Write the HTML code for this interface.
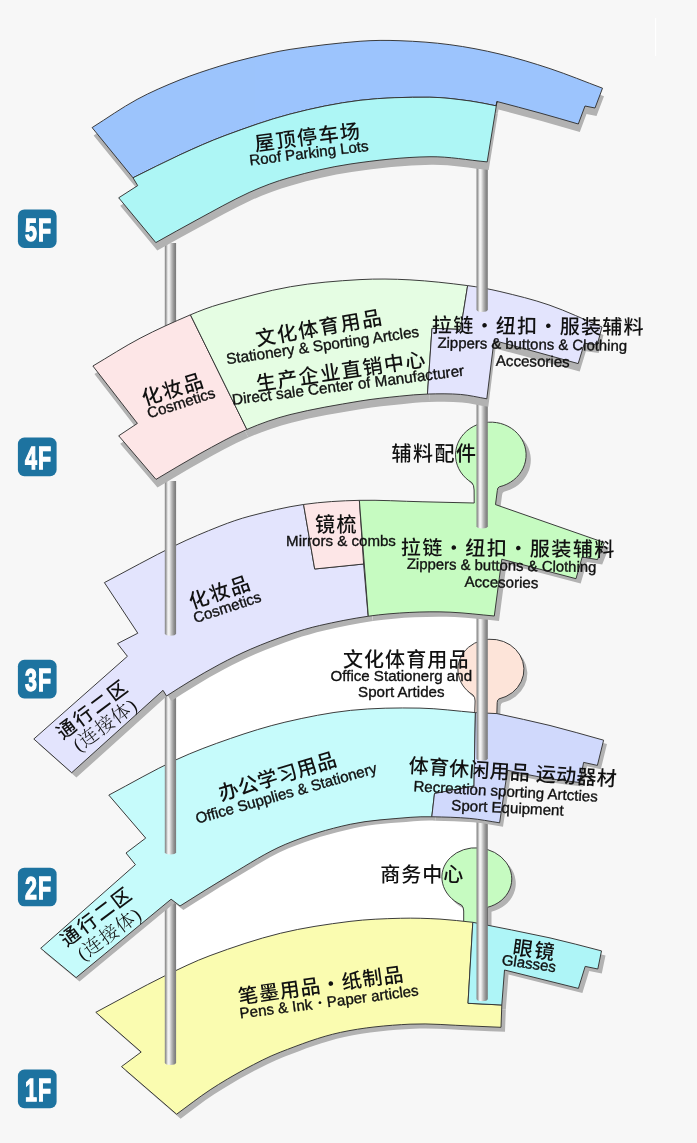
<!DOCTYPE html>
<html lang="zh"><head><meta charset="utf-8"><title>Floor Guide</title>
<style>html,body{margin:0;padding:0;background:#f7f7f7}body{width:697px;height:1143px;overflow:hidden}svg{display:block;will-change:transform;opacity:.999}</style>
</head><body>
<svg width="697" height="1143" viewBox="0 0 697 1143">
<defs>
<linearGradient id="pg" x1="0" y1="0" x2="1" y2="0">
<stop offset="0" stop-color="#868686"/><stop offset="0.1" stop-color="#9c9c9c"/><stop offset="0.27" stop-color="#eee"/><stop offset="0.38" stop-color="#f5f5f5"/><stop offset="0.6" stop-color="#bcbcbc"/><stop offset="0.82" stop-color="#8e8e8e"/><stop offset="1" stop-color="#787878"/>
</linearGradient>
<filter id="sb" x="-5%" y="-5%" width="110%" height="110%"><feGaussianBlur stdDeviation="0.5"/></filter>
</defs>
<rect width="697" height="1143" fill="#f7f7f7"/>
<rect x="655" y="18" width="1.2" height="38" fill="#fff"/>
<path d="M175.60 640.00 L477.50 560.00 L477.50 760.00 L175.60 830.00 Z" fill="#fff"/>
<path d="M175.60 850.00 L477.50 770.00 L477.50 960.00 L175.60 1030.00 Z" fill="#fff"/>
<g transform="translate(4.0 4.5)" fill="#b2b2b2" filter="url(#sb)">
<path d="M463.70 925.00 L463.70 911.00 Q463.70 907.30 461.50 905.00 A35.00 30.30 6.0 1 1 487.50 907.30 L487.50 928.00 Z"/>
<path d="M95.80 1012.30 C107.32 1006.11 118.79 999.83 130.35 993.72 C141.66 987.75 152.89 981.58 164.42 976.07 C179.45 968.88 194.44 961.37 210.05 955.61 C233.09 947.11 256.55 939.10 280.39 933.27 C303.19 927.69 326.66 924.31 349.97 921.39 C366.68 919.31 383.61 918.70 400.44 918.27 C413.61 917.93 426.82 918.35 439.97 919.08 C450.94 919.69 461.86 921.23 472.80 922.30 L468.00 1003.30 L501.80 1005.00 L501.00 1027.30 C490.75 1026.86 480.51 1026.33 470.26 1025.98 C450.19 1025.29 430.04 1023.17 410.04 1024.16 C386.75 1025.31 363.12 1027.50 340.38 1032.41 C319.83 1036.84 299.85 1044.62 280.19 1052.20 C268.03 1056.88 256.41 1063.03 244.92 1069.20 C233.07 1075.57 221.40 1082.42 210.17 1089.82 C198.63 1097.42 187.79 1106.07 176.60 1114.20 L121.50 1066.60 L141.20 1052.00 Z"/>
<path d="M472.80 922.30 C498.53 927.50 524.38 932.21 550.00 937.90 C567.28 941.74 584.33 946.57 601.50 950.90 L597.80 969.00 L585.20 966.40 L578.40 988.40 L504.50 970.00 L501.80 1005.00 L468.00 1003.30 Z"/>
</g>
<g stroke="#333" stroke-width="0.95" stroke-linejoin="miter">
<path d="M463.70 925.00 L463.70 911.00 Q463.70 907.30 461.50 905.00 A35.00 30.30 6.0 1 1 487.50 907.30 L487.50 928.00 Z" fill="#c6fbc1"/>
<path d="M95.80 1012.30 C107.32 1006.11 118.79 999.83 130.35 993.72 C141.66 987.75 152.89 981.58 164.42 976.07 C179.45 968.88 194.44 961.37 210.05 955.61 C233.09 947.11 256.55 939.10 280.39 933.27 C303.19 927.69 326.66 924.31 349.97 921.39 C366.68 919.31 383.61 918.70 400.44 918.27 C413.61 917.93 426.82 918.35 439.97 919.08 C450.94 919.69 461.86 921.23 472.80 922.30 L468.00 1003.30 L501.80 1005.00 L501.00 1027.30 C490.75 1026.86 480.51 1026.33 470.26 1025.98 C450.19 1025.29 430.04 1023.17 410.04 1024.16 C386.75 1025.31 363.12 1027.50 340.38 1032.41 C319.83 1036.84 299.85 1044.62 280.19 1052.20 C268.03 1056.88 256.41 1063.03 244.92 1069.20 C233.07 1075.57 221.40 1082.42 210.17 1089.82 C198.63 1097.42 187.79 1106.07 176.60 1114.20 L121.50 1066.60 L141.20 1052.00 Z" fill="#fafcb0"/>
<path d="M472.80 922.30 C498.53 927.50 524.38 932.21 550.00 937.90 C567.28 941.74 584.33 946.57 601.50 950.90 L597.80 969.00 L585.20 966.40 L578.40 988.40 L504.50 970.00 L501.80 1005.00 L468.00 1003.30 Z" fill="#aef5f7"/>
</g>
<path d="M164.8 901.0 L164.8 1062.8 A5.7 2.6 0 0 0 176.1 1062.8 L176.1 901.0 Z" fill="url(#pg)"/>
<path d="M476.5 820.0 L476.5 999.0 A5.7 2.6 0 0 0 487.8 999.0 L487.8 820.0 Z" fill="url(#pg)"/>
<g transform="translate(3.4 3.9)" fill="#b2b2b2" filter="url(#sb)">
<path d="M474.60 716.00 L475.10 701.00 Q475.20 697.20 472.90 694.90 A33.00 30.30 0 1 1 499.00 698.90 Q497.30 699.60 497.20 702.50 L496.70 718.00 Z"/>
<path d="M108.80 795.10 C131.13 783.37 152.95 770.53 175.78 759.91 C193.53 751.65 212.04 744.84 230.55 738.44 C248.42 732.27 266.54 726.51 284.93 722.20 C306.51 717.16 328.43 712.69 350.44 710.39 C373.45 707.99 396.83 707.71 419.98 708.12 C438.48 708.45 456.93 711.11 475.40 712.60 L474.00 786.00 L434.50 793.50 L431.80 816.78 C424.57 816.65 417.29 816.69 410.09 817.35 C390.11 819.18 369.78 820.03 350.24 824.27 C328.12 829.07 305.95 835.67 285.12 844.46 C266.02 852.51 248.43 864.27 230.45 874.80 C213.39 884.78 196.82 895.60 180.00 906.00 L171.10 899.20 L76.10 977.60 L40.70 948.30 L135.40 864.70 L126.00 853.00 L145.70 838.10 Z"/>
<path d="M475.40 712.60 L496.90 713.60 C514.60 717.57 532.40 721.11 550.00 725.50 C567.97 729.98 585.73 735.30 603.60 740.20 L597.40 765.40 L583.60 762.40 L579.70 782.50 C568.13 781.00 556.49 779.94 545.00 778.00 C532.43 775.88 520.00 772.87 507.50 770.30 L499.60 822.80 L499.60 822.80 C489.68 821.33 479.82 819.29 469.84 818.40 C457.22 817.28 444.48 817.01 431.80 816.78 L434.50 793.50 L474.00 786.00 Z"/>
</g>
<g stroke="#333" stroke-width="0.95" stroke-linejoin="miter">
<path d="M474.60 716.00 L475.10 701.00 Q475.20 697.20 472.90 694.90 A33.00 30.30 0 1 1 499.00 698.90 Q497.30 699.60 497.20 702.50 L496.70 718.00 Z" fill="#fde4d9"/>
<path d="M108.80 795.10 C131.13 783.37 152.95 770.53 175.78 759.91 C193.53 751.65 212.04 744.84 230.55 738.44 C248.42 732.27 266.54 726.51 284.93 722.20 C306.51 717.16 328.43 712.69 350.44 710.39 C373.45 707.99 396.83 707.71 419.98 708.12 C438.48 708.45 456.93 711.11 475.40 712.60 L474.00 786.00 L434.50 793.50 L431.80 816.78 C424.57 816.65 417.29 816.69 410.09 817.35 C390.11 819.18 369.78 820.03 350.24 824.27 C328.12 829.07 305.95 835.67 285.12 844.46 C266.02 852.51 248.43 864.27 230.45 874.80 C213.39 884.78 196.82 895.60 180.00 906.00 L171.10 899.20 L76.10 977.60 L40.70 948.30 L135.40 864.70 L126.00 853.00 L145.70 838.10 Z" fill="#c6fbfb"/>
<path d="M475.40 712.60 L496.90 713.60 C514.60 717.57 532.40 721.11 550.00 725.50 C567.97 729.98 585.73 735.30 603.60 740.20 L597.40 765.40 L583.60 762.40 L579.70 782.50 C568.13 781.00 556.49 779.94 545.00 778.00 C532.43 775.88 520.00 772.87 507.50 770.30 L499.60 822.80 L499.60 822.80 C489.68 821.33 479.82 819.29 469.84 818.40 C457.22 817.28 444.48 817.01 431.80 816.78 L434.50 793.50 L474.00 786.00 Z" fill="#d0d9fc"/>
</g>
<path d="M164.8 691.0 L164.8 852.3 A5.7 2.6 0 0 0 176.1 852.3 L176.1 691.0 Z" fill="url(#pg)"/>
<path d="M476.5 618.0 L476.5 758.6 A5.7 2.6 0 0 0 487.8 758.6 L487.8 618.0 Z" fill="url(#pg)"/>
<g transform="translate(4.7 4.9)" fill="#b2b2b2" filter="url(#sb)">
<path d="M104.40 582.60 C127.95 570.25 151.16 557.23 175.04 545.56 C189.69 538.41 204.80 532.11 219.96 526.14 C229.76 522.28 239.75 518.72 249.93 516.08 C267.61 511.50 285.51 507.08 303.57 504.48 L314.70 569.00 L363.60 564.00 L368.00 614.90 L368.32 616.22 C351.99 618.59 335.73 621.85 319.64 625.51 C309.63 627.79 299.72 630.72 290.01 634.05 C276.80 638.57 263.70 643.57 250.86 649.08 C240.33 653.60 230.05 658.78 219.91 664.14 C209.74 669.51 199.80 675.36 189.92 681.25 C182.00 685.98 174.31 691.08 166.50 696.00 L163.00 690.30 L71.70 772.70 L33.80 739.00 L127.40 656.30 L117.50 643.60 L137.80 633.20 Z"/>
<path d="M303.57 504.48 C321.98 501.83 340.74 500.76 359.36 500.34 L363.60 564.00 L314.70 569.00 Z"/>
<path d="M359.36 500.34 C380.23 499.86 401.16 501.30 422.06 501.78 C439.44 502.19 456.82 502.59 474.20 503.00 L474.10 490.00 Q474.10 485.20 471.80 482.60 A35.30 32.80 0 1 1 499.30 486.80 Q497.50 487.50 497.30 490.50 L495.50 504.60 L604.30 542.60 L597.50 559.60 L582.20 557.00 L576.00 578.70 L501.80 559.20 L494.30 616.00 C479.52 614.72 464.77 612.79 449.97 612.16 C436.64 611.60 423.23 611.76 409.91 612.43 C396.02 613.12 382.08 614.23 368.32 616.22 Z"/>
</g>
<g stroke="#333" stroke-width="0.95" stroke-linejoin="miter">
<path d="M104.40 582.60 C127.95 570.25 151.16 557.23 175.04 545.56 C189.69 538.41 204.80 532.11 219.96 526.14 C229.76 522.28 239.75 518.72 249.93 516.08 C267.61 511.50 285.51 507.08 303.57 504.48 L314.70 569.00 L363.60 564.00 L368.00 614.90 L368.32 616.22 C351.99 618.59 335.73 621.85 319.64 625.51 C309.63 627.79 299.72 630.72 290.01 634.05 C276.80 638.57 263.70 643.57 250.86 649.08 C240.33 653.60 230.05 658.78 219.91 664.14 C209.74 669.51 199.80 675.36 189.92 681.25 C182.00 685.98 174.31 691.08 166.50 696.00 L163.00 690.30 L71.70 772.70 L33.80 739.00 L127.40 656.30 L117.50 643.60 L137.80 633.20 Z" fill="#e3e4fd"/>
<path d="M303.57 504.48 C321.98 501.83 340.74 500.76 359.36 500.34 L363.60 564.00 L314.70 569.00 Z" fill="#fde6e7"/>
<path d="M359.36 500.34 C380.23 499.86 401.16 501.30 422.06 501.78 C439.44 502.19 456.82 502.59 474.20 503.00 L474.10 490.00 Q474.10 485.20 471.80 482.60 A35.30 32.80 0 1 1 499.30 486.80 Q497.50 487.50 497.30 490.50 L495.50 504.60 L604.30 542.60 L597.50 559.60 L582.20 557.00 L576.00 578.70 L501.80 559.20 L494.30 616.00 C479.52 614.72 464.77 612.79 449.97 612.16 C436.64 611.60 423.23 611.76 409.91 612.43 C396.02 613.12 382.08 614.23 368.32 616.22 Z" fill="#c6fbc1"/>
</g>
<path d="M164.8 481.0 L164.8 633.4 A5.7 2.6 0 0 0 176.1 633.4 L176.1 481.0 Z" fill="url(#pg)"/>
<path d="M476.5 400.0 L476.5 526.3 A5.7 2.6 0 0 0 487.8 526.3 L487.8 400.0 Z" fill="url(#pg)"/>
<path d="M164.8 243.0 L164.8 332.8 A5.7 2.6 0 0 0 176.1 332.8 L176.1 243.0 Z" fill="url(#pg)"/>
<g transform="translate(1.5 8.0)" fill="#b2b2b2" filter="url(#sb)">
<path d="M92.90 366.00 C108.63 356.74 123.94 346.69 140.08 338.22 C156.44 329.64 173.42 322.10 190.43 314.84 L246.86 429.45 C230.77 436.42 215.38 445.16 199.98 453.63 C185.10 461.81 170.66 470.81 156.00 479.40 L118.70 435.80 L137.40 423.40 Z"/>
<path d="M190.43 314.84 C200.06 310.73 209.90 306.94 219.98 304.10 C243.24 297.56 266.68 290.89 290.46 286.73 C313.36 282.72 336.77 280.93 360.01 279.60 C376.61 278.65 393.36 278.95 409.97 279.87 C429.23 280.95 448.49 283.12 467.63 285.60 L460.60 329.40 L432.00 328.40 L427.46 394.06 C418.24 394.33 409.03 395.23 399.85 396.18 C386.58 397.55 373.28 398.82 360.13 401.03 C336.63 404.98 312.98 408.85 289.91 414.64 C275.23 418.32 260.75 423.43 246.86 429.45 Z"/>
<path d="M467.63 285.60 C478.48 287.00 489.30 289.00 499.95 291.53 C516.41 295.45 532.98 299.40 548.94 304.95 C567.00 311.22 584.31 319.65 602.00 327.00 L597.20 345.00 L584.40 343.20 L578.20 363.60 C565.47 360.07 552.74 356.50 540.00 353.00 C524.68 348.80 509.33 344.67 494.00 340.50 L486.80 398.80 C478.07 397.35 469.41 395.14 460.61 394.44 C449.63 393.56 438.50 393.75 427.46 394.06 L432.00 328.40 L460.60 329.40 Z"/>
</g>
<g stroke="#333" stroke-width="0.95" stroke-linejoin="miter">
<path d="M92.90 366.00 C108.63 356.74 123.94 346.69 140.08 338.22 C156.44 329.64 173.42 322.10 190.43 314.84 L246.86 429.45 C230.77 436.42 215.38 445.16 199.98 453.63 C185.10 461.81 170.66 470.81 156.00 479.40 L118.70 435.80 L137.40 423.40 Z" fill="#fde6e7"/>
<path d="M190.43 314.84 C200.06 310.73 209.90 306.94 219.98 304.10 C243.24 297.56 266.68 290.89 290.46 286.73 C313.36 282.72 336.77 280.93 360.01 279.60 C376.61 278.65 393.36 278.95 409.97 279.87 C429.23 280.95 448.49 283.12 467.63 285.60 L460.60 329.40 L432.00 328.40 L427.46 394.06 C418.24 394.33 409.03 395.23 399.85 396.18 C386.58 397.55 373.28 398.82 360.13 401.03 C336.63 404.98 312.98 408.85 289.91 414.64 C275.23 418.32 260.75 423.43 246.86 429.45 Z" fill="#e5fde3"/>
<path d="M467.63 285.60 C478.48 287.00 489.30 289.00 499.95 291.53 C516.41 295.45 532.98 299.40 548.94 304.95 C567.00 311.22 584.31 319.65 602.00 327.00 L597.20 345.00 L584.40 343.20 L578.20 363.60 C565.47 360.07 552.74 356.50 540.00 353.00 C524.68 348.80 509.33 344.67 494.00 340.50 L486.80 398.80 C478.07 397.35 469.41 395.14 460.61 394.44 C449.63 393.56 438.50 393.75 427.46 394.06 L432.00 328.40 L460.60 329.40 Z" fill="#e3e4fd"/>
</g>
<path d="M476.5 163.0 L476.5 309.8 A5.7 2.6 0 0 0 487.8 309.8 L487.8 163.0 Z" fill="url(#pg)"/>
<g transform="translate(1.5 8.0)" fill="#b2b2b2" filter="url(#sb)">
<path d="M92.10 127.60 C107.09 118.20 121.56 107.83 137.07 99.40 C150.86 91.91 165.43 85.70 180.01 79.84 C193.05 74.59 206.50 70.29 219.91 66.07 C229.82 62.96 239.87 60.26 249.97 57.86 C263.24 54.70 276.56 51.43 290.05 49.39 C313.26 45.89 336.67 43.10 360.07 41.26 C373.33 40.21 386.73 40.21 400.03 40.71 C416.68 41.35 433.39 42.47 449.90 44.68 C466.71 46.93 483.47 50.13 499.97 54.08 C516.87 58.12 533.59 63.15 550.09 68.64 C567.77 74.52 585.03 81.68 602.50 88.20 L595.00 108.00 L585.00 106.00 L578.30 124.00 C565.53 120.33 552.80 116.54 540.00 113.00 C525.70 109.04 511.33 105.33 497.00 101.50 L496.00 105.80 C487.36 104.19 478.79 102.09 470.09 100.96 C456.76 99.23 443.33 97.30 429.91 97.23 C406.65 97.09 383.13 97.53 360.06 100.31 C336.49 103.16 312.96 108.11 289.96 114.12 C267.95 119.86 246.38 127.66 225.01 135.57 C209.72 141.22 194.82 147.99 180.00 154.79 C164.15 162.07 148.67 170.13 133.00 177.80 Z"/>
<path d="M118.70 197.80 L137.70 185.60 L133.00 177.80 C148.67 170.13 164.15 162.07 180.00 154.79 C194.82 147.99 209.72 141.22 225.01 135.57 C246.38 127.66 267.95 119.86 289.96 114.12 C312.96 108.11 336.49 103.16 360.06 100.31 C383.13 97.53 406.65 97.09 429.91 97.23 C443.33 97.30 456.76 99.23 470.09 100.96 C478.79 102.09 487.36 104.19 496.00 105.80 L497.00 101.50 L487.20 161.90 C468.13 160.17 449.05 156.42 429.98 156.72 C403.34 157.14 376.47 160.15 350.06 164.06 C329.77 167.06 309.61 171.88 289.86 177.44 C275.96 181.36 262.27 186.52 249.12 192.51 C231.30 200.64 214.24 210.52 196.95 219.80 C183.14 227.22 169.52 235.00 155.80 242.60 Z"/>
</g>
<g stroke="#333" stroke-width="0.95" stroke-linejoin="miter">
<path d="M92.10 127.60 C107.09 118.20 121.56 107.83 137.07 99.40 C150.86 91.91 165.43 85.70 180.01 79.84 C193.05 74.59 206.50 70.29 219.91 66.07 C229.82 62.96 239.87 60.26 249.97 57.86 C263.24 54.70 276.56 51.43 290.05 49.39 C313.26 45.89 336.67 43.10 360.07 41.26 C373.33 40.21 386.73 40.21 400.03 40.71 C416.68 41.35 433.39 42.47 449.90 44.68 C466.71 46.93 483.47 50.13 499.97 54.08 C516.87 58.12 533.59 63.15 550.09 68.64 C567.77 74.52 585.03 81.68 602.50 88.20 L595.00 108.00 L585.00 106.00 L578.30 124.00 C565.53 120.33 552.80 116.54 540.00 113.00 C525.70 109.04 511.33 105.33 497.00 101.50 L496.00 105.80 C487.36 104.19 478.79 102.09 470.09 100.96 C456.76 99.23 443.33 97.30 429.91 97.23 C406.65 97.09 383.13 97.53 360.06 100.31 C336.49 103.16 312.96 108.11 289.96 114.12 C267.95 119.86 246.38 127.66 225.01 135.57 C209.72 141.22 194.82 147.99 180.00 154.79 C164.15 162.07 148.67 170.13 133.00 177.80 Z" fill="#9cc4fd"/>
<path d="M118.70 197.80 L137.70 185.60 L133.00 177.80 C148.67 170.13 164.15 162.07 180.00 154.79 C194.82 147.99 209.72 141.22 225.01 135.57 C246.38 127.66 267.95 119.86 289.96 114.12 C312.96 108.11 336.49 103.16 360.06 100.31 C383.13 97.53 406.65 97.09 429.91 97.23 C443.33 97.30 456.76 99.23 470.09 100.96 C478.79 102.09 487.36 104.19 496.00 105.80 L497.00 101.50 L487.20 161.90 C468.13 160.17 449.05 156.42 429.98 156.72 C403.34 157.14 376.47 160.15 350.06 164.06 C329.77 167.06 309.61 171.88 289.86 177.44 C275.96 181.36 262.27 186.52 249.12 192.51 C231.30 200.64 214.24 210.52 196.95 219.80 C183.14 227.22 169.52 235.00 155.80 242.60 Z" fill="#adf6f5"/>
</g>
<rect x="17.9" y="209.4" width="38.7" height="38.6" rx="6.5" ry="6.5" fill="#1d73a0"/>
<text x="0" y="0" text-anchor="middle" font-family="'Liberation Sans', sans-serif" font-weight="bold" font-size="32" letter-spacing="1.6" fill="#fff" transform="translate(38.6 240.6) scale(0.67 1)" stroke="#fff" stroke-width="1.3" stroke-linejoin="miter">5F</text>
<rect x="17.9" y="437.6" width="38.7" height="38.6" rx="6.5" ry="6.5" fill="#1d73a0"/>
<text x="0" y="0" text-anchor="middle" font-family="'Liberation Sans', sans-serif" font-weight="bold" font-size="32" letter-spacing="1.6" fill="#fff" transform="translate(38.6 468.8) scale(0.67 1)" stroke="#fff" stroke-width="1.3" stroke-linejoin="miter">4F</text>
<rect x="17.9" y="659.8" width="38.7" height="38.6" rx="6.5" ry="6.5" fill="#1d73a0"/>
<text x="0" y="0" text-anchor="middle" font-family="'Liberation Sans', sans-serif" font-weight="bold" font-size="32" letter-spacing="1.6" fill="#fff" transform="translate(38.6 691.0) scale(0.67 1)" stroke="#fff" stroke-width="1.3" stroke-linejoin="miter">3F</text>
<rect x="17.9" y="867.7" width="38.7" height="38.6" rx="6.5" ry="6.5" fill="#1d73a0"/>
<text x="0" y="0" text-anchor="middle" font-family="'Liberation Sans', sans-serif" font-weight="bold" font-size="32" letter-spacing="1.6" fill="#fff" transform="translate(38.6 898.9) scale(0.67 1)" stroke="#fff" stroke-width="1.3" stroke-linejoin="miter">2F</text>
<rect x="17.9" y="1069.6" width="38.7" height="38.6" rx="6.5" ry="6.5" fill="#1d73a0"/>
<text x="0" y="0" text-anchor="middle" font-family="'Liberation Sans', sans-serif" font-weight="bold" font-size="32" letter-spacing="1.6" fill="#fff" transform="translate(38.6 1100.8) scale(0.67 1)" stroke="#fff" stroke-width="1.3" stroke-linejoin="miter">1F</text>
<text x="307.9" y="137.4" text-anchor="middle" dominant-baseline="central" font-family="'Liberation Sans', 'Noto Sans CJK SC', sans-serif" font-size="20" fill="#111" transform="rotate(-7.20 307.1 137.4)" letter-spacing="1.50" font-weight="500">屋顶停车场</text>
<text x="308.8" y="152.7" text-anchor="middle" dominant-baseline="central" font-family="'Liberation Sans', sans-serif" font-size="15.1" fill="#111" transform="rotate(-7.00 308.8 152.7)" stroke="#111" stroke-width="0.35">Roof Parking Lots</text>
<text x="173.2" y="389.5" text-anchor="middle" dominant-baseline="central" font-family="'Liberation Sans', 'Noto Sans CJK SC', sans-serif" font-size="20" fill="#111" transform="rotate(-17.70 172.4 389.5)" letter-spacing="1.50" font-weight="500">化妆品</text>
<text x="181.0" y="402.6" text-anchor="middle" dominant-baseline="central" font-family="'Liberation Sans', sans-serif" font-size="15.1" fill="#111" transform="rotate(-17.70 181.0 402.6)" stroke="#111" stroke-width="0.35">Cosmetics</text>
<text x="319.4" y="328.1" text-anchor="middle" dominant-baseline="central" font-family="'Liberation Sans', 'Noto Sans CJK SC', sans-serif" font-size="20" fill="#111" transform="rotate(-9.90 318.7 328.1)" letter-spacing="1.50" font-weight="500">文化体育用品</text>
<text x="322.5" y="345.0" text-anchor="middle" dominant-baseline="central" font-family="'Liberation Sans', sans-serif" font-size="15.3" fill="#111" transform="rotate(-8.20 322.5 345.0)" stroke="#111" stroke-width="0.35">Stationery &amp; Sporting Artcles</text>
<text x="341.4" y="371.5" text-anchor="middle" dominant-baseline="central" font-family="'Liberation Sans', 'Noto Sans CJK SC', sans-serif" font-size="20" fill="#111" transform="rotate(-8.40 340.7 371.5)" letter-spacing="1.50" font-weight="500">生产企业直销中心</text>
<text x="348.0" y="384.8" text-anchor="middle" dominant-baseline="central" font-family="'Liberation Sans', sans-serif" font-size="15.3" fill="#111" transform="rotate(-7.20 348.0 384.8)" stroke="#111" stroke-width="0.35">Direct sale Center of Manufacturer</text>
<text x="538.4" y="326.3" text-anchor="middle" dominant-baseline="central" font-family="'Liberation Sans', 'Noto Sans CJK SC', sans-serif" font-size="20" fill="#111" transform="rotate(0.50 537.8 326.3)" letter-spacing="1.30" font-weight="500">拉链・纽扣・服装辅料</text>
<text x="532.3" y="344.3" text-anchor="middle" dominant-baseline="central" font-family="'Liberation Sans', sans-serif" font-size="14.9" fill="#111" transform="rotate(1.00 532.3 344.3)" stroke="#111" stroke-width="0.35">Zippers &amp; buttons &amp; Clothing</text>
<text x="532.8" y="361.0" text-anchor="middle" dominant-baseline="central" font-family="'Liberation Sans', sans-serif" font-size="15.1" fill="#111" transform="rotate(1.00 532.8 361.0)" stroke="#111" stroke-width="0.35">Accesories</text>
<text x="434.6" y="454.0" text-anchor="middle" dominant-baseline="central" font-family="'Liberation Sans', 'Noto Sans CJK SC', sans-serif" font-size="20" fill="#111" transform="rotate(0.00 433.9 454.0)" letter-spacing="1.50" font-weight="500">辅料配件</text>
<text x="336.4" y="525.4" text-anchor="middle" dominant-baseline="central" font-family="'Liberation Sans', 'Noto Sans CJK SC', sans-serif" font-size="20" fill="#111" transform="rotate(0.00 335.6 525.4)" letter-spacing="1.50" font-weight="500">镜梳</text>
<text x="341.0" y="540.5" text-anchor="middle" dominant-baseline="central" font-family="'Liberation Sans', sans-serif" font-size="15.1" fill="#111" transform="rotate(0.00 341.0 540.5)" stroke="#111" stroke-width="0.35">Mirrors &amp; combs</text>
<text x="508.4" y="548.5" text-anchor="middle" dominant-baseline="central" font-family="'Liberation Sans', 'Noto Sans CJK SC', sans-serif" font-size="20" fill="#111" transform="rotate(0.50 507.6 548.5)" letter-spacing="1.50" font-weight="500">拉链・纽扣・服装辅料</text>
<text x="501.6" y="565.5" text-anchor="middle" dominant-baseline="central" font-family="'Liberation Sans', sans-serif" font-size="14.9" fill="#111" transform="rotate(1.00 501.6 565.5)" stroke="#111" stroke-width="0.35">Zippers &amp; buttons &amp; Clothing</text>
<text x="501.5" y="582.0" text-anchor="middle" dominant-baseline="central" font-family="'Liberation Sans', sans-serif" font-size="15.1" fill="#111" transform="rotate(1.00 501.5 582.0)" stroke="#111" stroke-width="0.35">Accesories</text>
<text x="220.2" y="592.5" text-anchor="middle" dominant-baseline="central" font-family="'Liberation Sans', 'Noto Sans CJK SC', sans-serif" font-size="20" fill="#111" transform="rotate(-18.70 219.5 592.5)" letter-spacing="1.50" font-weight="500">化妆品</text>
<text x="227.0" y="607.0" text-anchor="middle" dominant-baseline="central" font-family="'Liberation Sans', sans-serif" font-size="15.1" fill="#111" transform="rotate(-18.20 227.0 607.0)" stroke="#111" stroke-width="0.35">Cosmetics</text>
<text x="93.2" y="710.2" text-anchor="middle" dominant-baseline="central" font-family="'Liberation Sans', 'Noto Sans CJK SC', sans-serif" font-size="19" fill="#111" transform="rotate(-37.00 92.0 710.2)" letter-spacing="2.30" font-weight="500">通行二区</text>
<text x="105.3" y="725.2" text-anchor="middle" dominant-baseline="central" font-family="'Liberation Serif', 'Noto Serif CJK SC', serif" font-size="19" fill="#111" transform="rotate(-36.30 104.8 725.2)" letter-spacing="1.00" font-weight="300">(连接体)</text>
<text x="406.2" y="659.5" text-anchor="middle" dominant-baseline="central" font-family="'Liberation Sans', 'Noto Sans CJK SC', sans-serif" font-size="20" fill="#111" transform="rotate(0.00 405.7 659.5)" letter-spacing="1.10" font-weight="500">文化体育用品</text>
<text x="401.3" y="675.0" text-anchor="middle" dominant-baseline="central" font-family="'Liberation Sans', sans-serif" font-size="15.1" fill="#111" transform="rotate(0.00 401.3 675.0)" stroke="#111" stroke-width="0.35">Office Stationerg and</text>
<text x="401.3" y="691.0" text-anchor="middle" dominant-baseline="central" font-family="'Liberation Sans', sans-serif" font-size="15.1" fill="#111" transform="rotate(0.00 401.3 691.0)" stroke="#111" stroke-width="0.35">Sport Artides</text>
<text x="277.6" y="776.5" text-anchor="middle" dominant-baseline="central" font-family="'Liberation Sans', 'Noto Sans CJK SC', sans-serif" font-size="20" fill="#111" transform="rotate(-17.00 277.4 776.5)" letter-spacing="0.40" font-weight="500">办公学习用品</text>
<text x="286.0" y="793.0" text-anchor="middle" dominant-baseline="central" font-family="'Liberation Sans', sans-serif" font-size="15.1" fill="#111" transform="rotate(-15.80 286.0 793.0)" stroke="#111" stroke-width="0.35">Office Supplies &amp; Stationery</text>
<text x="512.8" y="772.3" text-anchor="middle" dominant-baseline="central" font-family="'Liberation Sans', 'Noto Sans CJK SC', sans-serif" font-size="20" fill="#111" transform="rotate(3.70 512.6 772.3)" letter-spacing="0.30" font-weight="500">体育休闲用品 运动器材</text>
<text x="505.7" y="791.0" text-anchor="middle" dominant-baseline="central" font-family="'Liberation Sans', sans-serif" font-size="15.1" fill="#111" transform="rotate(3.30 505.7 791.0)" stroke="#111" stroke-width="0.35">Recreation sporting Artcties</text>
<text x="507.5" y="807.5" text-anchor="middle" dominant-baseline="central" font-family="'Liberation Sans', sans-serif" font-size="15.1" fill="#111" transform="rotate(2.70 507.5 807.5)" stroke="#111" stroke-width="0.35">Sport Equipment</text>
<text x="422.2" y="874.5" text-anchor="middle" dominant-baseline="central" font-family="'Liberation Sans', 'Noto Sans CJK SC', sans-serif" font-size="20" fill="#111" transform="rotate(0.00 421.7 874.5)" letter-spacing="1.00" font-weight="500">商务中心</text>
<text x="321.1" y="985.5" text-anchor="middle" dominant-baseline="central" font-family="'Liberation Sans', 'Noto Sans CJK SC', sans-serif" font-size="20" fill="#111" transform="rotate(-8.00 320.7 985.5)" letter-spacing="0.90" font-weight="500">笔墨用品・纸制品</text>
<text x="329.0" y="1001.5" text-anchor="middle" dominant-baseline="central" font-family="'Liberation Sans', sans-serif" font-size="15.1" fill="#111" transform="rotate(-7.40 329.0 1001.5)" stroke="#111" stroke-width="0.35">Pens &amp; Ink・Paper articles</text>
<text x="534.4" y="950.0" text-anchor="middle" dominant-baseline="central" font-family="'Liberation Sans', 'Noto Sans CJK SC', sans-serif" font-size="20" fill="#111" transform="rotate(8.00 533.6 950.0)" letter-spacing="1.50" font-weight="500">眼镜</text>
<text x="529.0" y="963.0" text-anchor="middle" dominant-baseline="central" font-family="'Liberation Sans', sans-serif" font-size="15.1" fill="#111" transform="rotate(8.00 529.0 963.0)" stroke="#111" stroke-width="0.35">Glasses</text>
<text x="97.0" y="917.4" text-anchor="middle" dominant-baseline="central" font-family="'Liberation Sans', 'Noto Sans CJK SC', sans-serif" font-size="19" fill="#111" transform="rotate(-37.00 95.8 917.4)" letter-spacing="2.30" font-weight="500">通行二区</text>
<text x="109.5" y="934.3" text-anchor="middle" dominant-baseline="central" font-family="'Liberation Serif', 'Noto Serif CJK SC', serif" font-size="19" fill="#111" transform="rotate(-36.30 109.0 934.3)" letter-spacing="1.00" font-weight="300">(连接体)</text>
</svg>
</body></html>
